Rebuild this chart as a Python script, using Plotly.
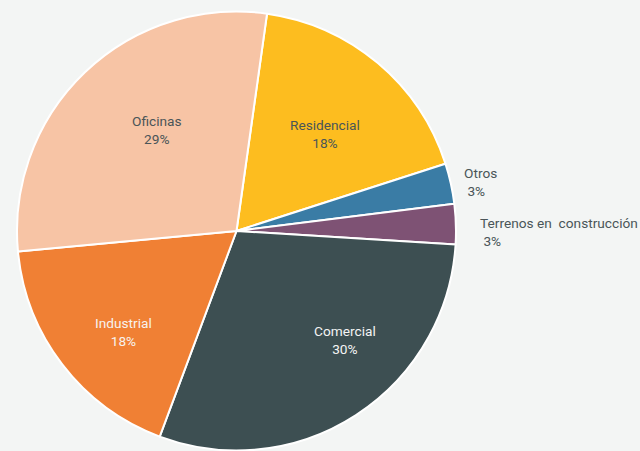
import plotly.graph_objects as go

# Property portfolio breakdown by segment (share, %)
labels = ["Residencial", "Otros", "Terrenos en  construcción", "Comercial", "Industrial", "Oficinas"]
values = [18, 3, 3, 30, 18, 29]
colors = ["#FDBD1F", "#3A7CA5", "#7E5274", "#3D4F52", "#F08034", "#F7C4A5"]
text_colors = ["#4A5558", "#4A5558", "#4A5558", "#F4F4F4", "#F7F2EE", "#4A5558"]

W, H = 640, 451
BG = "#F3F5F4"
FONT = "Roboto"
FONT_SIZE = 13.7

fig = go.Figure(
    go.Pie(
        labels=labels,
        values=values,
        sort=False,
        direction="clockwise",
        rotation=8,
        marker=dict(colors=colors, line=dict(color="#FFFFFF", width=2)),
        textinfo="none",
        domain=dict(x=[16.5 / W, 456.5 / W], y=[0.5 / H, 1 - 11.5 / H]),
        showlegend=False,
        hoverinfo="label+value",
    )
)

# Label anchor points in pixels: (x, y, x-anchor, alignment)
label_pos = {
    "Residencial": (325, 134, "center", "center"),
    "Otros": (462, 182, "left", "left"),
    "Terrenos en  construcción": (478, 232, "left", "left"),
    "Comercial": (345, 340, "center", "center"),
    "Industrial": (123, 332, "center", "center"),
    "Oficinas": (157, 130, "center", "center"),
}

annotations = []
for lab, val, tc in zip(labels, values, text_colors):
    px, py, xa, al = label_pos[lab]
    prefix = " " if al == "left" else ""
    annotations.append(
        dict(
            text=f"{lab}<br>{prefix}{val}%",
            x=px / W,
            y=1 - py / H,
            xref="paper",
            yref="paper",
            xanchor=xa,
            yanchor="middle",
            align=al,
            showarrow=False,
            font=dict(family=FONT, size=FONT_SIZE, color=tc),
        )
    )

fig.update_layout(
    width=W,
    height=H,
    margin=dict(l=0, r=0, t=0, b=0),
    paper_bgcolor=BG,
    plot_bgcolor=BG,
    annotations=annotations,
)

fig.write_html("out.html")
